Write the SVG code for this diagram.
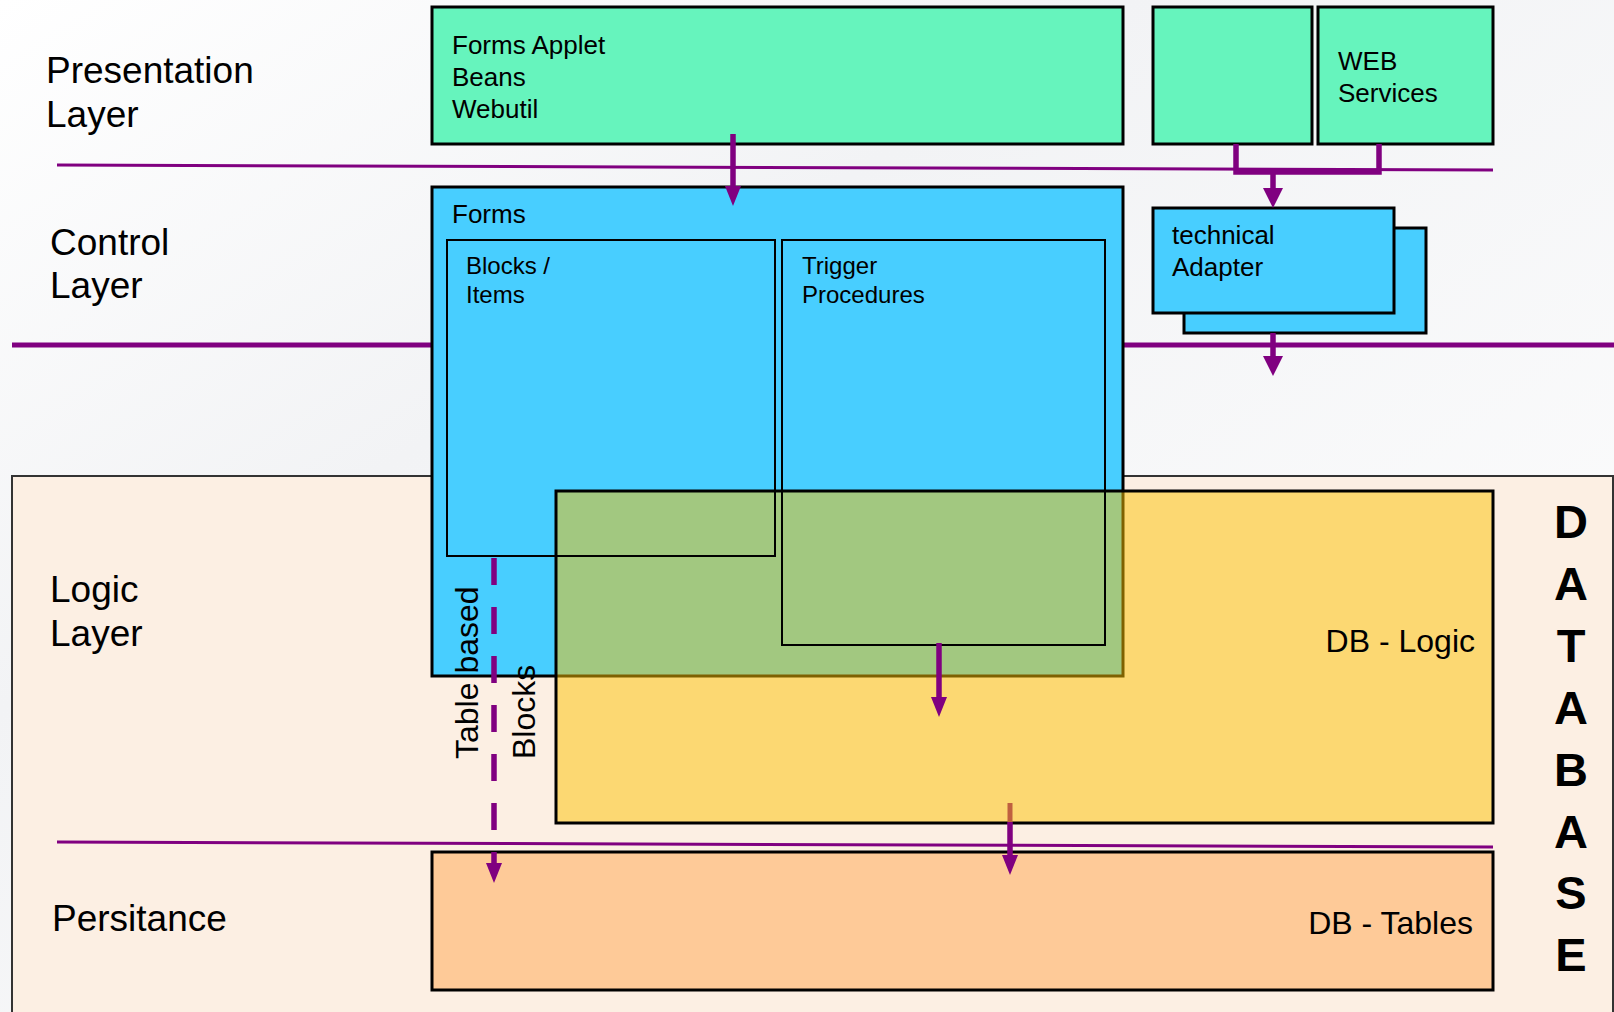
<svg xmlns="http://www.w3.org/2000/svg" width="1614" height="1012" viewBox="0 0 1614 1012">
<style>
text { font-family: "Liberation Sans", Arial, sans-serif; fill: #000; }
.lbl { font-size: 37px; }
.bx { font-size: 26px; }
.ibx { font-size: 24px; }
.db { font-size: 32px; }
.dbv { font-size: 47px; font-weight: bold; }
.rot { font-size: 32px; }
.sep { stroke: #800080; fill: none; }
.green { fill: #66F4BD; stroke: #000; stroke-width: 3; }
.blue { fill: #48CEFF; stroke: #000; stroke-width: 3; }
.inner { fill: none; stroke: #000; stroke-width: 2; }
.con { stroke: #800080; stroke-width: 5.5; fill: none; }
</style>
<defs>
<linearGradient id="bgTop" x1="0" y1="0" x2="1" y2="1">
<stop offset="0" stop-color="#FFFFFF"/>
<stop offset="0.35" stop-color="#F2F3F5"/>
<stop offset="1" stop-color="#FFFFFF"/>
</linearGradient>
<marker id="ah" viewBox="0 0 20 16" refX="0" refY="8" markerWidth="20" markerHeight="16" markerUnits="userSpaceOnUse" orient="auto">
<path d="M0,0 L20,8 L0,16 z" fill="#800080"/>
</marker>
<marker id="ahw" viewBox="0 0 20 20" refX="0" refY="10" markerWidth="20" markerHeight="20" markerUnits="userSpaceOnUse" orient="auto">
<path d="M0,0 L20,10 L0,20 z" fill="#800080"/>
</marker>
</defs>

<rect x="0" y="0" width="1614" height="1012" fill="url(#bgTop)"/>

<g id="database">
<rect x="12" y="476" width="1601" height="540" fill="#FCEFE3" stroke="#333" stroke-width="2"/>
<text class="dbv" x="1571" y="538" text-anchor="middle">D</text>
<text class="dbv" x="1571" y="600" text-anchor="middle">A</text>
<text class="dbv" x="1571" y="662" text-anchor="middle">T</text>
<text class="dbv" x="1571" y="724" text-anchor="middle">A</text>
<text class="dbv" x="1571" y="786" text-anchor="middle">B</text>
<text class="dbv" x="1571" y="848" text-anchor="middle">A</text>
<text class="dbv" x="1571" y="909" text-anchor="middle">S</text>
<text class="dbv" x="1571" y="971" text-anchor="middle">E</text>
</g>

<g id="layer-lines">
<line class="sep" x1="57" y1="165" x2="1493" y2="170" stroke-width="3"/>
<line class="sep" x1="12" y1="345" x2="432" y2="345" stroke-width="5"/>
<line class="sep" x1="1123" y1="345" x2="1614" y2="345" stroke-width="5"/>
<line class="sep" x1="57" y1="842" x2="1493" y2="847" stroke-width="3"/>
</g>

<g id="layer-labels">
<text class="lbl" x="46" y="83">Presentation</text>
<text class="lbl" x="46" y="127">Layer</text>
<text class="lbl" x="50" y="255">Control</text>
<text class="lbl" x="50" y="298">Layer</text>
<text class="lbl" x="50" y="602">Logic</text>
<text class="lbl" x="50" y="646">Layer</text>
<text class="lbl" x="52" y="931">Persitance</text>
</g>

<g id="forms-applet">
<rect class="green" x="432" y="7" width="691" height="137"/>
<text class="bx" x="452" y="54">Forms Applet</text>
<text class="bx" x="452" y="86">Beans</text>
<text class="bx" x="452" y="118">Webutil</text>
</g>

<g id="presentation-box">
<rect class="green" x="1153" y="7" width="159" height="137"/>
</g>

<g id="web-services">
<rect class="green" x="1318" y="7" width="175" height="137"/>
<text class="bx" x="1338" y="70">WEB</text>
<text class="bx" x="1338" y="102">Services</text>
</g>

<g id="technical-adapter">
<rect class="blue" x="1184" y="228" width="242" height="105"/>
<rect class="blue" x="1153" y="208" width="241" height="105"/>
<text class="bx" x="1172" y="244">technical</text>
<text class="bx" x="1172" y="276">Adapter</text>
</g>

<g id="forms">
<rect class="blue" x="432" y="187" width="691" height="489"/>
<text class="bx" x="452" y="223">Forms</text>
</g>

<g id="db-tables">
<rect x="432" y="852" width="1061" height="138" fill="#FECA98" stroke="#000" stroke-width="3"/>
<text class="db" x="1473" y="934" text-anchor="end">DB - Tables</text>
</g>

<g id="db-logic">
<rect x="556" y="491" width="937" height="332" fill="#FBC102" fill-opacity="0.5" stroke="none"/>
<rect x="556" y="491" width="937" height="332" fill="none" stroke="#000" stroke-width="3"/>
<text class="db" x="1475" y="652" text-anchor="end">DB - Logic</text>
</g>

<g id="blocks-items">
<rect class="inner" x="447" y="240" width="328" height="316"/>
<text class="ibx" x="466" y="274">Blocks /</text>
<text class="ibx" x="466" y="303">Items</text>
</g>

<g id="trigger-procedures">
<rect class="inner" x="782" y="240" width="323" height="405"/>
<text class="ibx" x="802" y="274">Trigger</text>
<text class="ibx" x="802" y="303">Procedures</text>
</g>

<g id="connectors">
<line class="con" x1="733" y1="134" x2="733" y2="186" marker-end="url(#ah)"/>
<path class="con" d="M1236,144 V172 H1379 V144"/>
<line class="con" x1="1273" y1="172" x2="1273" y2="188" marker-end="url(#ahw)"/>
<line class="con" x1="1273" y1="333" x2="1273" y2="356" marker-end="url(#ahw)"/>
<line class="con" x1="939" y1="643" x2="939" y2="697" marker-end="url(#ah)"/>
<line x1="1010" y1="803" x2="1010" y2="822" stroke="#BF6040" stroke-width="5"/>
<line class="con" x1="1010" y1="822" x2="1010" y2="855" stroke-width="5" marker-end="url(#ah)"/>
<line class="con" x1="494" y1="558" x2="494" y2="863" stroke-width="6" stroke-dasharray="27 22" marker-end="url(#ah)"/>
<text class="rot" transform="translate(478,759) rotate(-90)">Table based</text>
<text class="rot" transform="translate(535,759) rotate(-90)">Blocks</text>
</g>
</svg>
